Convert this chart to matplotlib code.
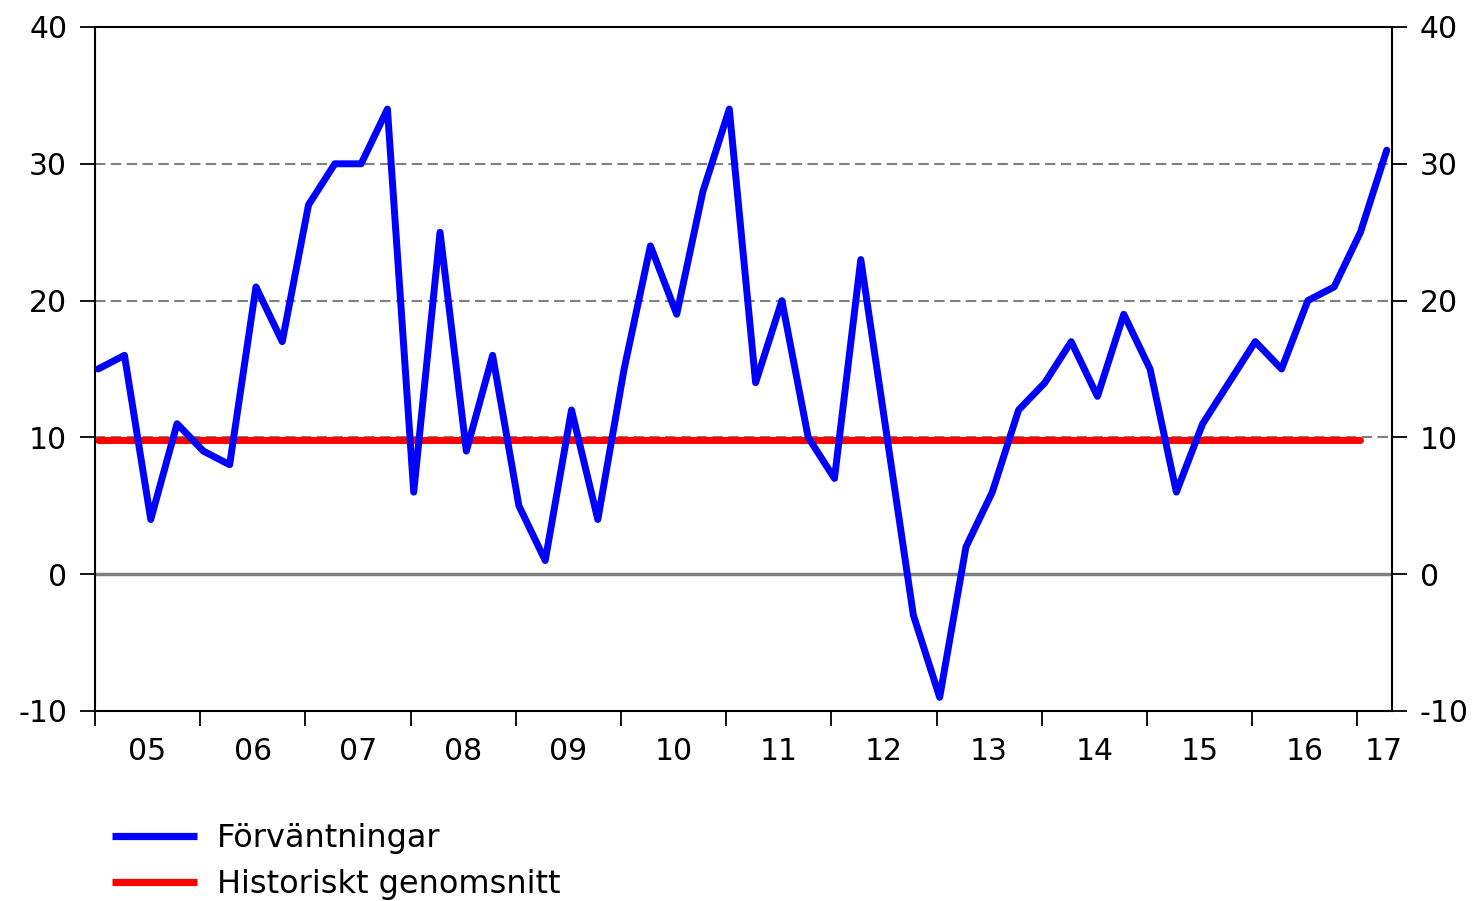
import matplotlib
matplotlib.use("Agg")
import matplotlib.pyplot as plt
import numpy as np

# Data: quarterly, 2005Q1 - 2017Q2
expectations = [15, 16, 4, 11,
                9, 8, 21, 17,
                27, 30, 30, 34,
                6, 25, 9, 16,
                5, 1, 12, 4,
                15, 24, 19, 28,
                34, 14, 20, 10,
                7, 23, 10, -3,
                -9, 2, 6, 12,
                14, 17, 13, 19,
                15, 6, 11, 14,
                17, 15, 20, 21,
                25, 31]
hist_mean_value = 9.8
hist_mean_count = 49  # 2005Q1 - 2017Q1
start_year = 2005
year_labels = ["05", "06", "07", "08", "09", "10", "11", "12", "13", "14", "15", "16", "17"]
y_ticks = [-10, 0, 10, 20, 30, 40]
legend_labels = ["Förväntningar", "Historiskt genomsnitt"]

plt.rcParams['font.family'] = ['DejaVu Sans']

W, H = 1479, 901
fig = plt.figure(figsize=(W / 100, H / 100), dpi=100)
ax = fig.add_axes([95 / W, 1 - 711 / H, (1392 - 95) / W, (711 - 27) / H])

t = start_year + 0.03 + 0.25 * np.arange(len(expectations))
t_mean = t[:hist_mean_count]
mean_vals = np.full(hist_mean_count, hist_mean_value)

# grid lines
for g in [10, 20, 30]:
    ax.axhline(g, color="#808080", lw=1.5, ls=(0, (5, 2.6)), zorder=1)
ax.axhline(0, color="#808080", lw=2.5, zorder=1)

l1, = ax.plot(t, expectations, color="#0000ff", lw=5, zorder=3,
              solid_joinstyle="round", solid_capstyle="round",
              label=legend_labels[0])
l2, = ax.plot(t_mean, mean_vals, color="#ff0000", lw=5, zorder=2,
              solid_capstyle="round", label=legend_labels[1])

ax.set_ylim(-10, 40)
ax.set_xlim(start_year, start_year + 12.33)
ax.set_yticks(y_ticks)
ax.set_yticklabels([str(v) for v in y_ticks])

years = np.arange(start_year, start_year + len(year_labels))
ax.set_xticks(years)
ax.set_xticklabels([])
label_pos = [y + 0.5 for y in years[:-1]] + [years[-1] + 0.25]
ax.set_xticks(label_pos, minor=True)
ax.set_xticklabels(year_labels, minor=True)

ax.tick_params(axis="y", which="major", direction="out", length=11, width=1.3,
               labelsize=21.5, pad=9, left=True, right=True,
               labelleft=True, labelright=True, colors="black")
ax.tick_params(axis="x", which="major", direction="out", length=11, width=1.3)
ax.tick_params(axis="x", which="minor", length=0, labelsize=21.5, pad=19)

for s in ax.spines.values():
    s.set_linewidth(1.5)
    s.set_color("black")

leg = fig.legend(handles=[l1, l2], labels=legend_labels,
                 loc="upper left", bbox_to_anchor=(112 / W, 1 - 823 / H),
                 frameon=False, fontsize=23, handlelength=2.66,
                 handletextpad=0.62, labelspacing=0.46, borderaxespad=0,
                 borderpad=0)
for h in leg.legend_handles:
    h.set_linewidth(5.2)
    h.set_solid_capstyle("butt")

fig.savefig("out.png", dpi=100)
